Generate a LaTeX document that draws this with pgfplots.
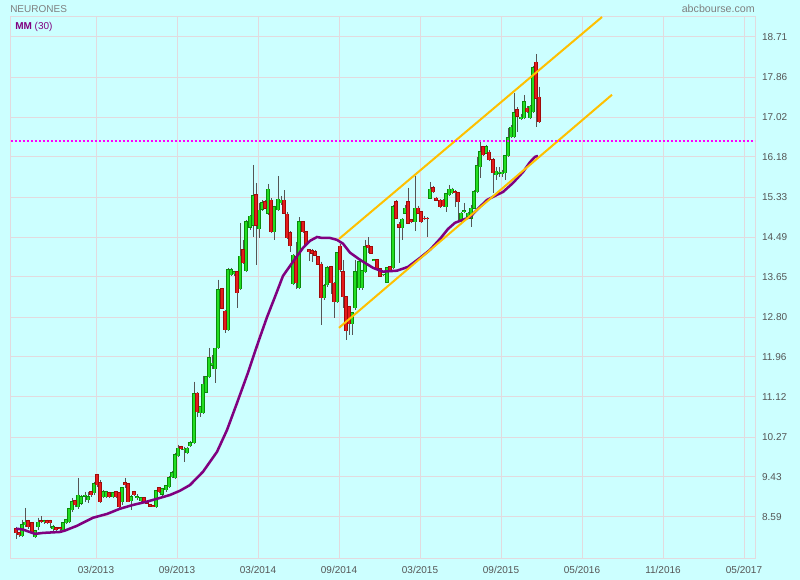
\documentclass[border=0pt]{standalone}
\usepackage{pgfplots}
\pgfplotsset{compat=1.18}
\usepackage{pgfplotstable}
\usepackage{fontspec}
\setmainfont{Liberation Sans}

\definecolor{bg}{RGB}{204,255,255}
\definecolor{gridc}{RGB}{226,218,222}
\definecolor{tickc}{RGB}{85,85,85}
\definecolor{titlec}{RGB}{128,128,128}
\definecolor{mmc}{RGB}{128,0,128}
\definecolor{candleup}{RGB}{34,222,34}
\definecolor{candleupedge}{RGB}{10,140,10}
\definecolor{candledn}{RGB}{228,28,28}
\definecolor{candledndge}{RGB}{160,10,10}
\definecolor{wick}{RGB}{85,85,85}
\definecolor{chan}{RGB}{255,192,0}
\definecolor{dotc}{RGB}{255,0,255}

% weekly candles: x (chart position), open, high, low, close
\pgfplotstableread{
x o h l c
22 8.19 8.53 8.17 8.42
25 8.42 8.78 8.38 8.48
35 8.17 8.32 8.15 8.30
38 8.38 8.57 8.32 8.48
44 8.48 8.53 8.44 8.51
53 8.34 8.42 8.30 8.38
63 8.32 8.48 8.30 8.46
66 8.46 8.55 8.44 8.53
69 8.48 8.78 8.46 8.76
72 8.74 8.99 8.70 8.91
78 8.80 9.41 8.76 9.05
81 8.88 9.05 8.84 9.01
85 9.02 9.12 8.91 9.05
88 8.95 9.12 8.88 9.01
94 9.10 9.33 9.05 9.29
103 9.01 9.16 8.99 9.12
106 9.01 9.14 8.99 9.12
113 9.01 9.12 8.99 9.10
122 8.91 9.20 8.84 9.20
131 8.93 9.05 8.74 9.01
137 8.99 9.07 8.95 9.01
141 8.93 9.01 8.91 8.99
156 8.80 9.16 8.78 9.14
162 9.07 9.20 9.03 9.18
166 9.16 9.26 9.12 9.24
169 9.22 9.45 9.20 9.41
172 9.43 9.56 9.41 9.52
175 9.41 9.94 9.39 9.90
178 9.88 10.11 9.85 10.04
184 10.00 10.07 9.75 10.02
187 9.94 10.07 9.92 10.04
190 10.09 10.19 10.07 10.15
194 10.15 11.44 10.13 11.18
200 10.78 10.93 10.70 10.91
203 10.78 11.56 10.76 11.39
206 11.22 11.56 11.20 11.54
209 11.54 12.15 11.52 11.94
212 11.79 12.00 11.71 11.83
215 11.71 12.15 11.41 12.15
218 12.15 13.59 12.13 13.38
228 12.53 13.84 12.51 13.80
231 13.69 13.84 13.67 13.80
234 13.71 13.78 13.67 13.76
240 13.40 14.79 13.38 14.09
246 13.78 14.85 13.76 14.81
250 14.70 14.95 14.64 14.93
253 14.74 16.01 14.49 15.36
259 14.66 15.21 14.47 15.06
262 15.08 15.27 15.04 15.21
268 14.99 15.61 14.95 15.50
274 14.60 15.15 14.43 15.13
278 15.06 15.78 15.04 15.29
281 15.21 15.36 15.17 15.27
293 13.50 14.13 13.48 14.11
299 13.42 14.91 13.40 14.81
324 13.21 13.50 13.16 13.46
327 13.48 13.88 13.44 13.84
337 13.12 14.17 13.10 14.16
352 12.66 12.90 12.43 12.89
355 13.00 14.01 12.95 13.76
359 13.42 14.01 13.38 13.97
362 13.42 13.80 13.38 13.78
365 13.76 14.43 13.74 14.28
374 14.00 14.03 13.99 14.01
383 13.69 13.71 13.67 13.71
387 13.54 13.86 13.52 13.84
393 13.84 15.17 13.82 15.13
402 14.68 14.89 14.43 14.87
405 14.99 15.17 14.97 15.10
415 14.81 15.78 14.62 15.10
430 15.31 15.65 15.29 15.50
446 15.13 15.42 15.02 15.40
449 15.38 15.59 15.36 15.50
452 15.42 15.53 15.40 15.50
461 14.85 15.02 14.81 14.99
464 15.02 15.21 14.99 15.04
468 14.93 15.02 14.91 14.99
471 14.89 15.17 14.70 15.10
474 15.10 15.48 15.08 15.44
477 15.44 16.18 15.42 15.99
480 15.97 16.50 15.74 16.29
486 16.26 16.43 16.24 16.39
496 15.80 15.97 15.70 15.88
499 15.83 15.97 15.76 15.86
502 15.82 15.91 15.76 15.86
505 15.84 16.22 15.70 16.20
508 16.20 16.79 16.18 16.58
511 16.60 16.85 16.58 16.81
514 16.60 17.53 16.58 17.11
521 16.98 17.08 16.96 17.02
524 17.00 17.49 16.98 17.34
530 17.00 17.27 16.98 17.25
533 17.13 18.10 17.11 18.06
}\upcandles

\pgfplotstableread{
x o h l c
16 8.34 8.38 8.13 8.25
19 8.25 8.27 8.17 8.21
28 8.51 8.53 8.34 8.38
32 8.46 8.48 8.25 8.27
41 8.51 8.61 8.46 8.48
47 8.51 8.53 8.44 8.46
50 8.51 8.53 8.36 8.46
56 8.36 8.38 8.30 8.32
60 8.36 8.38 8.27 8.34
75 8.93 8.95 8.80 8.84
91 9.12 9.14 9.01 9.05
97 9.48 9.50 9.22 9.26
100 9.31 9.37 8.88 8.91
109 9.10 9.12 8.99 9.01
116 9.12 9.14 8.99 9.01
119 9.10 9.10 8.78 8.80
125 9.31 9.41 9.20 9.26
128 9.29 9.29 8.91 8.91
134 9.12 9.14 9.03 9.05
144 8.99 9.01 8.88 8.91
147 8.91 8.93 8.86 8.88
150 8.84 8.86 8.80 8.81
153 8.82 8.84 8.79 8.80
159 9.20 9.22 9.10 9.12
181 10.07 10.09 10.00 10.02
197 11.20 11.22 10.70 10.80
222 13.40 13.42 12.97 12.99
225 12.93 12.95 12.47 12.53
237 13.76 13.78 12.99 13.31
243 14.22 14.43 13.92 13.95
256 15.38 15.63 13.90 14.74
265 15.23 15.27 15.08 15.10
271 15.27 15.31 14.58 14.60
284 15.27 15.48 14.97 14.99
287 14.97 15.02 14.45 14.47
290 14.58 14.62 14.18 14.30
296 14.07 14.39 13.40 13.52
303 14.81 14.83 14.58 14.60
306 14.60 14.62 14.32 14.34
309 14.22 14.24 13.99 14.18
312 14.20 14.24 13.97 14.15
315 14.18 14.22 14.09 14.11
318 14.07 14.09 13.90 13.92
321 13.92 13.97 12.64 13.21
331 13.86 13.88 13.29 13.52
334 13.52 13.54 12.79 13.12
340 14.30 14.35 13.76 13.80
343 13.76 14.01 13.00 13.23
346 13.23 13.25 12.32 12.51
349 13.02 13.04 12.43 12.66
368 14.32 14.49 14.15 14.26
371 14.28 14.30 14.13 14.15
377 14.01 14.03 13.82 13.84
380 13.82 13.84 13.65 13.66
390 13.86 13.88 13.78 13.80
396 15.23 15.27 14.87 14.89
399 14.76 14.81 13.95 14.70
408 15.23 15.53 14.76 14.78
411 14.85 14.87 14.78 14.81
418 15.10 15.15 14.97 14.99
421 15.02 15.04 14.78 14.81
424 14.89 14.93 14.85 14.87
427 14.89 14.91 14.49 14.87
433 15.53 15.57 15.42 15.44
436 15.31 15.34 15.25 15.27
440 15.27 15.29 15.10 15.13
443 15.27 15.29 15.13 15.15
455 15.44 15.48 15.13 15.42
458 15.42 15.44 14.81 15.23
483 16.39 16.41 16.20 16.22
489 16.28 16.33 16.10 16.12
493 16.12 16.16 15.42 15.84
517 17.17 17.23 16.71 17.04
527 17.21 17.25 17.11 17.13
536 18.18 18.35 16.81 17.42
539 17.44 17.66 16.90 16.92
}\downcandles

\pgfplotsset{
  wickstyle/.style={draw=none, mark=none, forget plot,
    error bars/.cd, y dir=minus, y explicit, error mark=none,
    error bar style={draw=wick, line width=0.75pt}},
  bodystyle/.style={draw=none, mark=none, forget plot,
    error bars/.cd, y dir=minus, y explicit, error mark=none,
    error bar style={draw=#1, line width=2.4pt}},
  innerstyle/.style={draw=none, mark=none, forget plot,
    error bars/.cd, y dir=minus, y explicit, error mark=none,
    error bar style={draw=#1, line width=1.2pt}},
}

\begin{document}
\begin{tikzpicture}
\useasboundingbox (0,0) rectangle (600pt,435pt);
\fill[bg] (0,0) rectangle (600pt,435pt);
\begin{axis}[
  at={(7.875pt,15.75pt)}, anchor=south west,
  width=558.375pt, height=406.5pt, scale only axis,
  xmin=10.5, xmax=755, ymin=7.70, ymax=19.13,
  axis line style={draw=gridc, line width=0.75pt},
  grid=major, major grid style={draw=gridc, line width=0.75pt},
  major tick length=0pt,
  xtick={96,177,258,339,420,501,582,663,744},
  xticklabels={03/2013,09/2013,03/2014,09/2014,03/2015,09/2015,05/2016,11/2016,05/2017},
  ytick={8.59,9.43,10.27,11.12,11.96,12.80,13.65,14.49,15.33,16.18,17.02,17.86,18.71},
  yticklabels={8.59,9.43,10.27,11.12,11.96,12.80,13.65,14.49,15.33,16.18,17.02,17.86,18.71},
  yticklabel pos=right,
  tick label style={font=\fontsize{7.5}{9}\selectfont, text=tickc},
  yticklabel style={xshift=1.8pt},
  xticklabel style={yshift=-2.2pt},
]
% wicks
\addplot[wickstyle] table[x=x, y=h, y error minus expr=\thisrow{h}-\thisrow{l}] {\upcandles};
\addplot[wickstyle] table[x=x, y=h, y error minus expr=\thisrow{h}-\thisrow{l}] {\downcandles};
% bodies: darker edge, then brighter inside
\addplot[bodystyle=candleupedge]
  table[x=x, y expr={max(\thisrow{o},\thisrow{c})+0.01},
        y error minus expr={max(abs(\thisrow{c}-\thisrow{o}),0.02)+0.02}] {\upcandles};
\addplot[innerstyle=candleup]
  table[x=x, y expr={max(\thisrow{o},\thisrow{c})},
        y error minus expr={max(abs(\thisrow{c}-\thisrow{o}),0.02)}] {\upcandles};
\addplot[bodystyle=candledndge]
  table[x=x, y expr={max(\thisrow{o},\thisrow{c})+0.01},
        y error minus expr={max(abs(\thisrow{c}-\thisrow{o}),0.02)+0.02}] {\downcandles};
\addplot[innerstyle=candledn]
  table[x=x, y expr={max(\thisrow{o},\thisrow{c})},
        y error minus expr={max(abs(\thisrow{c}-\thisrow{o}),0.02)}] {\downcandles};
% moving average (30)
\addplot[mmc, line width=1.9pt, mark=none] coordinates {
(16,8.34) (23,8.32) (35,8.23) (43,8.25) (60,8.27) (65,8.30) (77,8.40) (93,8.57)
(107,8.65) (120,8.76) (133,8.84) (147,8.91) (157,8.97) (170,9.05) (180,9.14)
(190,9.26) (203,9.54) (217,9.96) (227,10.42) (237,10.99) (248,11.63) (258,12.26)
(267,12.80) (275,13.23) (283,13.67) (293,13.97) (303,14.26) (310,14.41) (317,14.49)
(322,14.47) (330,14.47) (337,14.43) (343,14.35) (350,14.16) (360,14.01) (373,13.84)
(383,13.76) (397,13.78) (408,13.86) (420,14.05) (430,14.22) (440,14.45) (448,14.66)
(455,14.79) (460,14.83) (470,14.91) (480,15.13) (487,15.27) (497,15.38) (503,15.44)
(513,15.63) (523,15.86) (530,16.07) (535,16.18) (538,16.20)
};
% trend channel
\addplot[chan, line width=1.5pt, mark=none] coordinates {(339,14.45) (602,19.13)};
\addplot[chan, line width=1.5pt, mark=none] coordinates {(339,12.575) (612,17.49)};
% horizontal level
\addplot[dotc, line width=1.5pt, dash pattern=on 1.5pt off 1.5pt, mark=none] coordinates {(10.5,16.52) (755,16.52)};
\end{axis}
\node[anchor=base west, inner sep=0pt, text=titlec, font=\fontsize{7.5}{9}\selectfont] at (7.5pt,425.25pt) {NEURONES};
\node[anchor=base east, inner sep=0pt, text=titlec, font=\fontsize{8}{9}\selectfont] at (566.25pt,425.25pt) {abcbourse.com};
\node[anchor=base west, inner sep=0pt, text=mmc, font=\fontsize{7.5}{9}\selectfont] at (11.25pt,412.5pt) {\textbf{MM} (30)};
\end{tikzpicture}
\end{document}
